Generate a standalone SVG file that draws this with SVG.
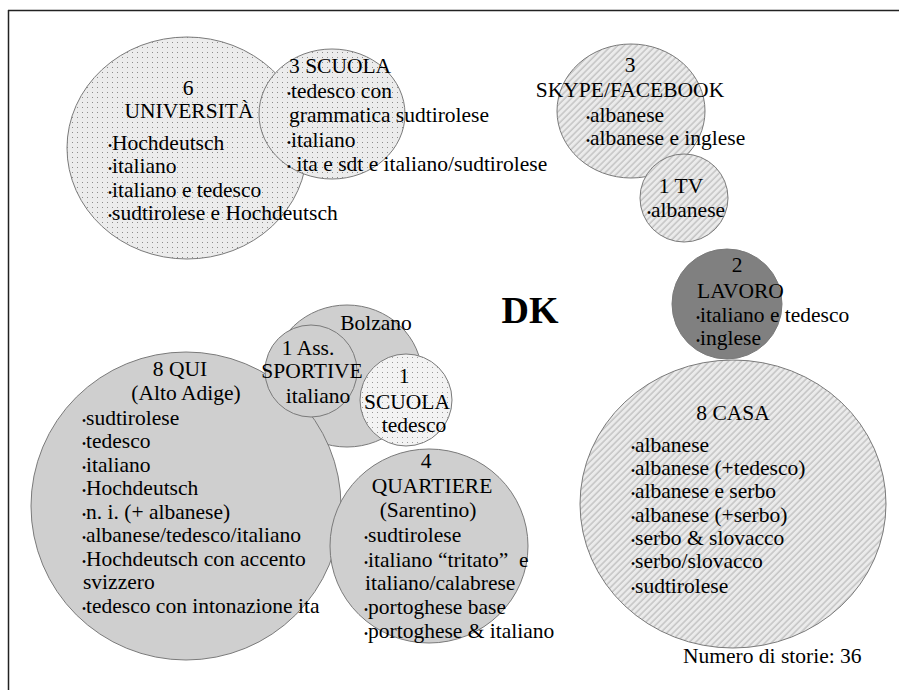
<svg xmlns="http://www.w3.org/2000/svg" width="899" height="690" viewBox="0 0 899 690">
<defs>
<pattern id="dots" patternUnits="userSpaceOnUse" width="5" height="5">
<rect width="5" height="5" fill="#ececec"/>
<rect x="2" y="2" width="1" height="1" fill="#8c8c8c"/>
</pattern>
<pattern id="dots2" patternUnits="userSpaceOnUse" width="5" height="5">
<rect width="5" height="5" fill="#f3f3f3"/>
<rect x="2" y="2" width="1" height="1" fill="#999"/>
</pattern>
<pattern id="hatch" patternUnits="userSpaceOnUse" width="4.5" height="4.5" patternTransform="rotate(45)">
<rect width="4.5" height="4.5" fill="#ebebeb"/>
<line x1="1" y1="0" x2="1" y2="4.5" stroke="#b0b0b0" stroke-width="1"/>
</pattern>
</defs>
<style>
text{font-family:"Liberation Serif","Times New Roman",serif;font-size:21.5px;fill:#000}
.c{text-anchor:middle}
.b{font-size:11.5px}
.dk{font-size:38px;font-weight:bold}
.n{stroke:#7a7a7a;stroke-width:1}
.g{fill:#cfcfcf}
</style>
<rect width="899" height="690" fill="#fff"/>
<g id="frame" stroke="#222" stroke-width="1.5">
<line x1="8" y1="10.5" x2="899" y2="10.5"/>
<line x1="8.5" y1="10" x2="8.5" y2="690"/>
</g>
<g id="connectors"></g>
<g id="universita">
<ellipse class="n" cx="187" cy="148" rx="120" ry="111" fill="url(#dots)"/>
<text x="188" y="95" class="c">6</text>
<text x="189" y="118" class="c">UNIVERSITÀ</text>
<text x="108" y="150"><tspan class="b">•</tspan>Hochdeutsch</text>
<text x="108" y="173"><tspan class="b">•</tspan>italiano</text>
<text x="108" y="197"><tspan class="b">•</tspan>italiano e tedesco</text>
<text x="108" y="220"><tspan class="b">•</tspan>sudtirolese e Hochdeutsch</text>
</g>
<g id="scuola3">
<ellipse class="n" cx="332" cy="114" rx="73" ry="65" fill="url(#dots)"/>
<text x="289" y="73">3 SCUOLA</text>
<text x="287" y="98"><tspan class="b">•</tspan>tedesco con</text>
<text x="289" y="122">grammatica sudtirolese</text>
<text x="287" y="147"><tspan class="b">•</tspan>italiano</text>
<text x="287" y="171"><tspan class="b">•</tspan> ita e sdt e italiano/sudtirolese</text>
</g>
<g id="skype">
<ellipse class="n" cx="631" cy="111" rx="74" ry="67" fill="url(#hatch)"/>
<text x="630" y="72" class="c">3</text>
<text x="630" y="97" class="c">SKYPE/FACEBOOK</text>
<text x="586" y="122"><tspan class="b">•</tspan>albanese</text>
<text x="586" y="145"><tspan class="b">•</tspan>albanese e inglese</text>
</g>
<g id="tv">
<circle class="n" cx="684" cy="198" r="44" fill="url(#hatch)"/>
<text x="681" y="193" class="c">1 TV</text>
<text x="647" y="217"><tspan class="b">•</tspan>albanese</text>
</g>
<g id="lavoro">
<circle class="n" cx="727" cy="304" r="55" fill="#808080" stroke="#808080"/>
<text x="737" y="272" class="c">2</text>
<text x="697" y="298">LAVORO</text>
<text x="696" y="322"><tspan class="b">•</tspan>italiano e tedesco</text>
<text x="696" y="345"><tspan class="b">•</tspan>inglese</text>
</g>
<g id="casa">
<ellipse class="n" cx="733" cy="504" rx="153" ry="144" fill="url(#hatch)"/>
<text x="733" y="420" class="c">8 CASA</text>
<text x="631" y="452"><tspan class="b">•</tspan>albanese</text>
<text x="631" y="475"><tspan class="b">•</tspan>albanese (+tedesco)</text>
<text x="631" y="498"><tspan class="b">•</tspan>albanese e serbo</text>
<text x="631" y="522"><tspan class="b">•</tspan>albanese (+serbo)</text>
<text x="631" y="545"><tspan class="b">•</tspan>serbo &amp; slovacco</text>
<text x="631" y="568"><tspan class="b">•</tspan>serbo/slovacco</text>
<text x="631" y="593"><tspan class="b">•</tspan>sudtirolese</text>
</g>
<g id="dk">
<text x="530" y="323" class="c dk">DK</text>
</g>
<g id="bolzano">
<ellipse class="n g" cx="347" cy="376" rx="75" ry="71"/>
<text x="376" y="330" class="c">Bolzano</text>
</g>
<g id="qui">
<ellipse class="n g" cx="186" cy="506" rx="155" ry="154"/>
<text x="180" y="376" class="c">8 QUI</text>
<text x="186" y="400" class="c">(Alto Adige)</text>
<text x="82" y="425"><tspan class="b">•</tspan>sudtirolese</text>
<text x="82" y="448"><tspan class="b">•</tspan>tedesco</text>
<text x="82" y="472"><tspan class="b">•</tspan>italiano</text>
<text x="82" y="495"><tspan class="b">•</tspan>Hochdeutsch</text>
<text x="82" y="519"><tspan class="b">•</tspan>n. i. (+ albanese)</text>
<text x="82" y="542"><tspan class="b">•</tspan>albanese/tedesco/italiano</text>
<text x="82" y="566"><tspan class="b">•</tspan>Hochdeutsch con accento</text>
<text x="83" y="589">svizzero</text>
<text x="82" y="613"><tspan class="b">•</tspan>tedesco con intonazione ita</text>
</g>
<g id="sportive">
<circle class="n g" cx="311" cy="371" r="46"/>
<text x="308" y="355" class="c">1 Ass.</text>
<text x="312" y="378" class="c">SPORTIVE</text>
<text x="318" y="403" class="c">italiano</text>
</g>
<g id="scuola1">
<circle class="n" cx="406" cy="400" r="46" fill="url(#dots2)"/>
<text x="404" y="383" class="c">1</text>
<text x="407" y="409" class="c">SCUOLA</text>
<text x="414" y="432" class="c">tedesco</text>
</g>
<g id="quartiere">
<ellipse class="n g" cx="429" cy="546" rx="99" ry="97"/>
<text x="426" y="468" class="c">4</text>
<text x="432" y="493" class="c">QUARTIERE</text>
<text x="428" y="517" class="c">(Sarentino)</text>
<text x="364" y="542"><tspan class="b">•</tspan>sudtirolese</text>
<text x="364" y="567" xml:space="preserve"><tspan class="b">•</tspan>italiano “tritato”  e</text>
<text x="365" y="590">italiano/calabrese</text>
<text x="364" y="614"><tspan class="b">•</tspan>portoghese base</text>
<text x="364" y="638"><tspan class="b">•</tspan>portoghese &amp; italiano</text>
</g>
<g id="note">
<text x="683" y="663">Numero di storie: 36</text>
</g>
</svg>
